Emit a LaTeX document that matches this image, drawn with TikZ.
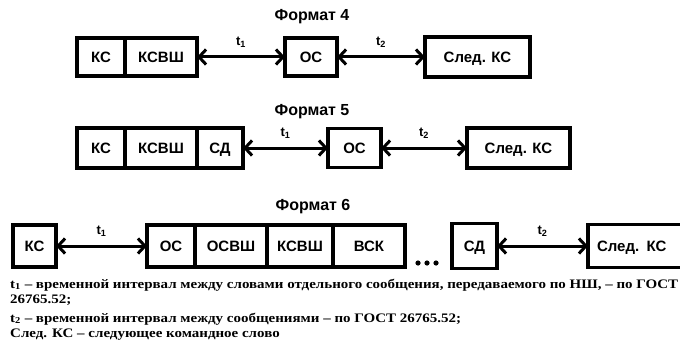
\documentclass[tikz,border=0pt]{standalone}
\usepackage{fontspec}
\setmainfont{Liberation Serif}
\newfontfamily\lsans{Liberation Sans}
\usetikzlibrary{arrows.meta}
\newlength\notelen
\newcommand\lineone{t\textsubscript{1} -- временной интервал между словами отдельного сообщения, передаваемого по НШ, -- по ГОСТ}
\begin{document}
\begin{tikzpicture}[x=1pt,y=-1pt,
  wbox/.style={draw, line width=3.4pt, inner sep=0pt, outer sep=0pt, anchor=west,
    text height=10.5pt, text depth=0pt,
    font=\lsans\bfseries\fontsize{15}{17}\selectfont},
  darrow/.style={line width=3pt, {Straight Barb[length=7pt,width=15pt]}-{Straight Barb[length=7pt,width=15pt]}},
  ttl/.style={font=\lsans\bfseries\fontsize{16}{18}\selectfont, inner sep=0pt},
  tlab/.style={font=\lsans\bfseries\fontsize{13}{14}\selectfont, inner sep=0pt},
  note/.style={anchor=base west, inner sep=0pt, font=\bfseries\fontsize{13}{15}\selectfont}]
\useasboundingbox (0,0) rectangle (680,345);
\fill[white] (0,0) rectangle (680,345);
% ---------- Format 4
\node[ttl] (f4) at (312,17) {Формат 4};
\node[wbox, minimum width=48pt, minimum height=38pt] (a1) at (77,57) {КС};
\node[wbox, minimum width=72pt, minimum height=38pt] (a2) at (a1.east) {КСВШ};
\node[wbox, minimum width=52pt, minimum height=38pt] (a3) at (285,57) {ОС};
\node[wbox, minimum width=105pt, minimum height=40pt] (a4) at (425,57) {След. КС};
\draw[darrow] (a2.east) -- node[tlab, above=8pt] (a5) {t\textsubscript{1}} (a3.west);
\draw[darrow] (a3.east) -- node[tlab, above=8pt] (a6) {t\textsubscript{2}} (a4.west);
% ---------- Format 5
\node[ttl] (f5) at (312,112) {Формат 5};
\node[wbox, minimum width=48pt, minimum height=40pt] (b1) at (77,148) {КС};
\node[wbox, minimum width=72pt, minimum height=40pt] (b2) at (b1.east) {КСВШ};
\node[wbox, minimum width=46pt, minimum height=40pt] (b3) at (b2.east) {СД};
\node[wbox, minimum width=53pt, minimum height=39pt] (b4) at (328,148) {ОС};
\node[wbox, minimum width=103pt, minimum height=40pt] (b5) at (467,148) {След. КС};
\draw[darrow] (b3.east) -- node[tlab, above=8pt] (b6) {t\textsubscript{1}} (b4.west);
\draw[darrow] (b4.east) -- node[tlab, above=8pt] (b7) {t\textsubscript{2}} (b5.west);
% ---------- Format 6
\node[ttl] (f6) at (313,207) {Формат 6};
\node[wbox, minimum width=43pt, minimum height=42pt] (c1) at (13,246) {КС};
\node[wbox, minimum width=48pt, minimum height=42pt] (c2) at (147,246) {ОС};
\node[wbox, minimum width=72pt, minimum height=42pt] (c3) at (c2.east) {ОСВШ};
\node[wbox, minimum width=66pt, minimum height=42pt] (c4) at (c3.east) {КСВШ};
\node[wbox, minimum width=72pt, minimum height=42pt] (c5) at (c4.east) {ВСК};
\node[wbox, minimum width=45pt, minimum height=45pt] (c6) at (452,246) {СД};
\node[wbox, minimum width=100pt, minimum height=43pt, text width=92pt, align=left] (c7) at (588,246) {\hspace{5pt}След. КС};
\draw[darrow] (c1.east) -- node[tlab, above=8pt] (c8) {t\textsubscript{1}} (c2.west);
\draw[darrow] (c6.east) -- node[tlab, above=8pt] (c9) {t\textsubscript{2}} (c7.west);
\foreach \i in {0,1,2} \fill (418+\i*9,263) circle (2.6pt);
% ---------- notes
\node[note] (n1) at (10,288) {\settowidth{\notelen}{\lineone}\pgfmathsetmacro\fx{668/\notelen}\global\let\gfx\fx\scalebox{\gfx}[1]{\lineone}};
\node[note] (n2) at (10,303) {\scalebox{\gfx}[1]{26765.52;}};
\node[note] (n3) at (10,322) {\scalebox{\gfx}[1]{t\textsubscript{2} -- временной интервал между сообщениями -- по ГОСТ 26765.52;}};
\node[note] (n4) at (10,337) {\scalebox{\gfx}[1]{След. КС -- следующее командное слово}};
\end{tikzpicture}
\end{document}
